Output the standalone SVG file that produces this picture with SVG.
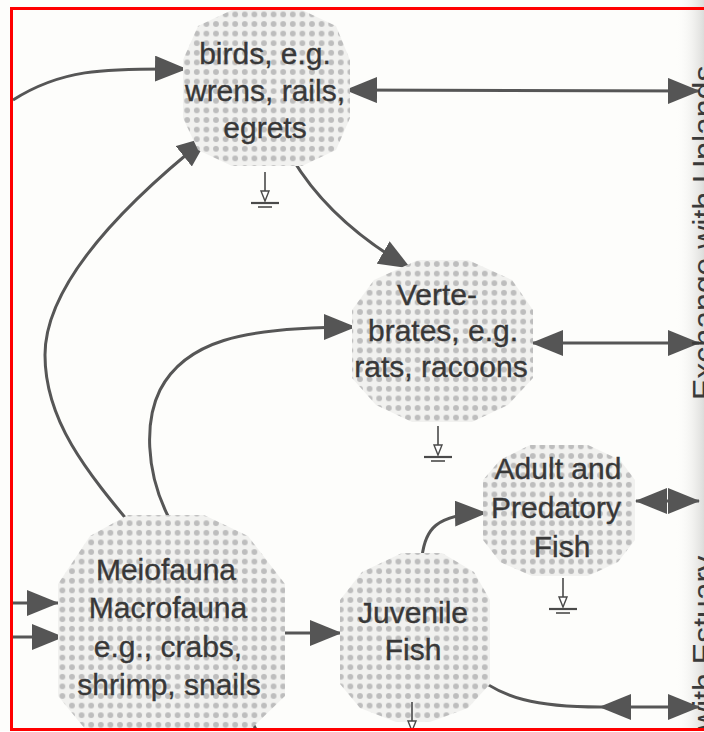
<svg xmlns="http://www.w3.org/2000/svg" xmlns:xlink="http://www.w3.org/1999/xlink" width="704" height="732" viewBox="0 0 704 732">
<style>
.node{fill:url(#stip)}
.lbl{font-family:"Liberation Sans",Arial,Helvetica,sans-serif;font-size:30px;fill:#383838;stroke:#383838;stroke-width:0.35;text-anchor:middle}
.side{font-family:"Liberation Sans",Arial,Helvetica,sans-serif;font-size:32px;fill:#3a3a3a}
.con{fill:none;stroke:#565656;stroke-width:3}
.sink line{stroke:#4a4a4a;stroke-width:1.6}
.sink polygon{fill:#fff;stroke:#4a4a4a;stroke-width:1.4}
</style>
<defs>
<pattern id="stip" width="9.6" height="9.6" patternUnits="userSpaceOnUse">
<rect width="9.6" height="9.6" fill="#f1f1ef"/>
<circle cx="4.8" cy="4.8" r="2.9" fill="#bdbdbd"/>
</pattern>
<linearGradient id="fold" x1="0" y1="0" x2="1" y2="0">
<stop offset="0" stop-color="#fdfdfb" stop-opacity="0"/>
<stop offset="1" stop-color="#dcdcda"/>
</linearGradient>
<marker id="ah" markerUnits="userSpaceOnUse" viewBox="0 0 32 26" markerWidth="32" markerHeight="26" refX="31" refY="13" orient="auto-start-reverse">
<path d="M0,0 L32,13 L0,26 Z" fill="#555"/>
</marker>
<g id="sink" class="sink">
<line x1="0" y1="0" x2="0" y2="19"/>
<polygon points="-4,19 4,19 0,29"/>
<line x1="-14" y1="31" x2="14" y2="31" style="stroke-width:2.2"/>
<line x1="-7" y1="35" x2="7" y2="35"/>
</g>
</defs>

<rect x="0" y="0" width="704" height="732" fill="#fdfdfb"/>
<rect x="676" y="0" width="28" height="732" fill="url(#fold)"/>

<g id="connectors">
<path class="con" d="M13,100 C60,70 100,68 186,69" marker-end="url(#ah)"/>
<path class="con" d="M138,533 C85,470 45,420 45,355 C45,290 110,215 208,137" marker-end="url(#ah)"/>
<path class="con" d="M168,516 C145,470 145,420 160,390 C185,342 240,327 355,327" marker-end="url(#ah)"/>
<path class="con" d="M292,158 Q330,222 410,268" marker-end="url(#ah)"/>
<path class="con" d="M346,90 L699,91" marker-start="url(#ah)" marker-end="url(#ah)"/>
<path class="con" d="M532,343 L699,343" marker-start="url(#ah)" marker-end="url(#ah)"/>
<path class="con" d="M636,501 L699,501" marker-start="url(#ah)" marker-end="url(#ah)"/>
<path class="con" d="M422,557 C425,530 435,514 486,513" marker-end="url(#ah)"/>
<path class="con" d="M466,668 C500,700 540,707 600,707"/>
<path class="con" d="M600,707 L699,707" marker-start="url(#ah)" marker-end="url(#ah)"/>
<path class="con" d="M283,633 L341,633" marker-end="url(#ah)"/>
<path class="con" d="M12,603 L58,603" marker-end="url(#ah)"/>
<path class="con" d="M12,637 L63,637" marker-end="url(#ah)"/>
<path class="con" d="M246,711 L259,735"/>
</g>

<g id="birds">
<polygon class="node" points="232,10 302,10 336,26 350,60 350,118 336,150 302,166 232,166 198,150 183,118 183,60 198,26"/>
<text class="lbl" x="265" y="64">birds, e.g.</text>
<text class="lbl" x="265" y="101">wrens, rails,</text>
<text class="lbl" x="265" y="138">egrets</text>
<use href="#sink" x="265" y="172"/>
</g>

<g id="vertebrates">
<polygon class="node" points="418,260 468,260 512,280 533,310 533,378 508,405 472,422 412,422 376,405 352,378 352,310 374,280"/>
<text class="lbl" x="437" y="305">Verte-</text>
<text class="lbl" x="443" y="341">brates, e.g.</text>
<text class="lbl" x="441" y="377">rats, racoons</text>
<use href="#sink" x="438" y="426"/>
</g>

<g id="adult-fish">
<polygon class="node" points="530,445 588,445 620,460 635,480 635,540 618,562 588,576 532,576 500,562 483,540 483,480 500,460"/>
<text class="lbl" x="558" y="479">Adult and</text>
<text class="lbl" x="556" y="518">Predatory</text>
<text class="lbl" x="562" y="557">Fish</text>
<use href="#sink" x="563" y="578"/>
</g>

<g id="juvenile-fish">
<polygon class="node" points="402,553 442,553 474,572 490,600 490,684 468,708 430,722 396,722 360,708 340,684 340,600 362,572"/>
<text class="lbl" x="413" y="623">Juvenile</text>
<text class="lbl" x="413" y="660">Fish</text>
<use href="#sink" x="412" y="702"/>
</g>

<g id="meiofauna">
<polygon class="node" points="128,515 204,515 248,536 285,584 285,696 250,730 214,745 122,745 86,730 58,696 58,584 90,536"/>
<text class="lbl" x="166" y="580">Meiofauna</text>
<text class="lbl" x="168" y="618">Macrofauna</text>
<text class="lbl" x="168" y="657">e.g., crabs,</text>
<text class="lbl" x="169" y="695">shrimp, snails</text>
</g>

<g id="side-labels">
<text class="side" transform="translate(715,400) rotate(-90)">Exchange with Uplands</text>
<text class="side" transform="translate(715,730) rotate(-90)">with Estuary</text>
</g>

<rect x="0" y="731" width="704" height="1" fill="#fff"/>
<path d="M704,8.5 L11.5,8.5 L11.5,729.5 L704,729.5" fill="none" stroke="#f00" stroke-width="3"/>
</svg>
